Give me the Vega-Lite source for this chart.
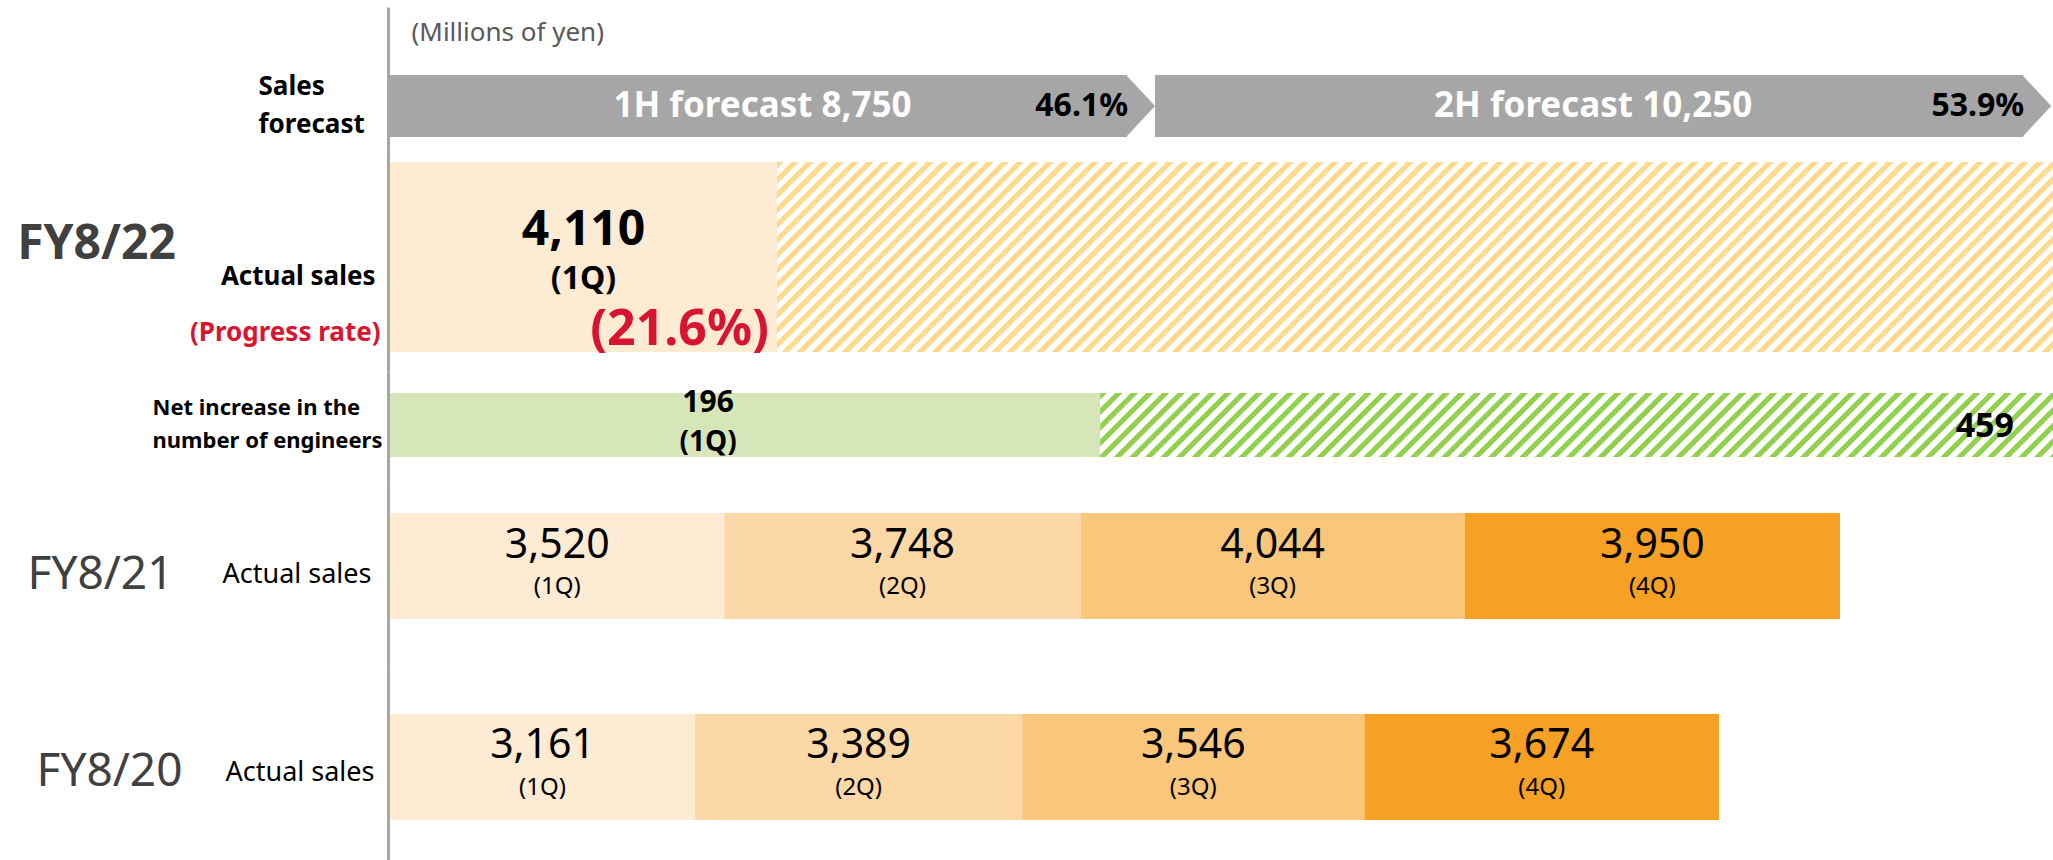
{
"$schema":"https://vega.github.io/schema/vega-lite/v6.json",
"background":"white",
"padding":{"left":0,"top":7,"right":0,"bottom":0},
"config":{"font":"Noto Sans","view":{"stroke":null},
"axis":{"ticks":false,"tickSize":0,"grid":false,"domain":false,"labelLimit":0,"labelBaseline":"middle","labelFont":"Noto Sans","labelOverlap":false,"labelAngle":0}},
"spacing":0,
"bounds":"flush",
"resolve":{"scale":{"x":"independent","y":"independent"}},
"datasets":{
"forecast":[
{"row":"forecast","half":"1H","start":0,"end":8750,"amount":8750,"label":"1H forecast 8,750","share":"46.1%"},
{"row":"forecast","half":"2H","start":8750,"end":19000,"amount":10250,"label":"2H forecast 10,250","share":"53.9%"}],
"fy22":[
{"row":"FY8/22","part":"actual","from":0,"to":4110,"amount":4110,"qlabel":"(1Q)","progress":"(21.6%)"},
{"row":"FY8/22","part":"remaining","from":4110,"to":19000}],
"engineers":[
{"row":"engineers","part":"actual","from":0,"to":196,"amount":196,"qlabel":"(1Q)"},
{"row":"engineers","part":"target","from":196,"to":459,"target":459}],
"fy21":[
{"row":"FY8/21","q":"1Q","qlabel":"(1Q)","sales":3520},
{"row":"FY8/21","q":"2Q","qlabel":"(2Q)","sales":3748},
{"row":"FY8/21","q":"3Q","qlabel":"(3Q)","sales":4044},
{"row":"FY8/21","q":"4Q","qlabel":"(4Q)","sales":3950}],
"fy20":[
{"row":"FY8/20","q":"1Q","qlabel":"(1Q)","sales":3161},
{"row":"FY8/20","q":"2Q","qlabel":"(2Q)","sales":3389},
{"row":"FY8/20","q":"3Q","qlabel":"(3Q)","sales":3546},
{"row":"FY8/20","q":"4Q","qlabel":"(4Q)","sales":3674}]
},
"vconcat":[
{
"width":1663,"height":142,
"data":{"name":"forecast"},
"resolve":{"axis":{"x":"independent","y":"independent"}},
"layer":[
{"mark":{"type":"bar","color":"#a6a6a6","x2Offset":-28},
"encoding":{
"x":{"field":"start","type":"quantitative","scale":{"domain":[0,19020],"nice":false},"axis":{"orient":"top","labels":false,"ticks":false,"domain":false,"grid":false,"title":"(Millions of yen)","titleFont":"Noto Sans","titleFontSize":26,"titleFontWeight":"normal","titleColor":"#595959","titleAlign":"left","titleBaseline":"middle","titleAngle":0,"titleX":21,"titleY":25}},
"x2":{"field":"end"},
"y":{"field":"row","type":"nominal","scale":{"type":"band","paddingInner":0,"paddingOuter":0.64516,"align":0.85},"axis":{"orient":"left","offset":2,"domain":true,"domainColor":"#a6a6a6","domainWidth":3,"labelExpr":"['Sales', 'forecast']","labelAlign":"left","labelPadding":130,"labelOffset":-19,"labelFontSize":26,"labelFontWeight":"bold","labelColor":"#000000","labelLineHeight":38,"title":" ","titleAngle":0,"titleX":-388,"titleY":10,"titleAlign":"left","titleFontSize":1}}}},
{"mark":{"type":"point","shape":"M-0.935,-1L0,0L-0.935,1Z","size":3844,"filled":true,"color":"#a6a6a6","opacity":1,"strokeWidth":0},
"encoding":{
"x":{"field":"end","type":"quantitative","scale":{"domain":[0,19020],"nice":false},"axis":null},
"y":{"field":"row","type":"nominal","scale":{"type":"band","paddingInner":0,"paddingOuter":0.64516,"align":0.85},"axis":null}}},
{"mark":{"type":"text","color":"#ffffff","fontWeight":"bold","fontSize":35,"dx":-10,"baseline":"middle","align":"center"},
"encoding":{
"x":{"field":"amount","type":"quantitative","stack":"zero","bandPosition":0.5,"scale":{"domain":[0,19020],"nice":false},"axis":null},
"detail":{"field":"half"},
"order":{"field":"half","type":"ordinal","sort":"ascending"},
"y":{"field":"row","type":"nominal","scale":{"type":"band","paddingInner":0,"paddingOuter":0.64516,"align":0.85},"axis":null},
"text":{"field":"label"}}},
{"mark":{"type":"text","color":"#000000","fontWeight":"bold","fontSize":32,"dx":-27,"baseline":"middle","align":"right"},
"encoding":{
"x":{"field":"end","type":"quantitative","scale":{"domain":[0,19020],"nice":false},"axis":null},
"y":{"field":"row","type":"nominal","scale":{"type":"band","paddingInner":0,"paddingOuter":0.64516,"align":0.85},"axis":null},
"text":{"field":"share"}}}
]},
{
"width":1663,"height":223,
"data":{"name":"fy22"},
"resolve":{"axis":{"y":"independent"}},
"layer":[
{"transform":[{"filter":"datum.part === 'actual'"}],
"mark":{"type":"bar","color":"#fdebd3"},
"encoding":{
"x":{"field":"from","type":"quantitative","scale":{"domain":[0,17660],"nice":false},"axis":null},
"x2":{"field":"to"},
"y":{"field":"row","type":"nominal","scale":{"type":"band","paddingInner":0,"paddingOuter":0.086842,"align":0.393939},"axis":{"orient":"left","offset":2,"domain":true,"domainColor":"#a6a6a6","domainWidth":3,"labelExpr":"'FY8/22'","labelAlign":"center","labelPadding":292,"labelOffset":-12,"labelFontSize":48,"labelFontWeight":"bold","labelColor":"#404040","title":null}}}},
{"transform":[{"filter":"datum.part === 'remaining'"}],
"mark":{"type":"bar","clip":true,"fill":{"gradient":"linear","x1":0,"y1":0,"x2":1.050494,"y2":0.142348,"stops":[
{"offset":0.00,"color":"#ffd98c"},{"offset":0.004,"color":"#ffd98c"},{"offset":0.005,"color":"#fff"},{"offset":0.0095,"color":"#fff"},
{"offset":0.01,"color":"#ffd98c"},{"offset":0.014,"color":"#ffd98c"},{"offset":0.015,"color":"#fff"},{"offset":0.0195,"color":"#fff"},
{"offset":0.02,"color":"#ffd98c"},{"offset":0.024,"color":"#ffd98c"},{"offset":0.025,"color":"#fff"},{"offset":0.0295,"color":"#fff"},
{"offset":0.03,"color":"#ffd98c"},{"offset":0.034,"color":"#ffd98c"},{"offset":0.035,"color":"#fff"},{"offset":0.0395,"color":"#fff"},
{"offset":0.04,"color":"#ffd98c"},{"offset":0.044,"color":"#ffd98c"},{"offset":0.045,"color":"#fff"},{"offset":0.0495,"color":"#fff"},
{"offset":0.05,"color":"#ffd98c"},{"offset":0.054,"color":"#ffd98c"},{"offset":0.055,"color":"#fff"},{"offset":0.0595,"color":"#fff"},
{"offset":0.06,"color":"#ffd98c"},{"offset":0.064,"color":"#ffd98c"},{"offset":0.065,"color":"#fff"},{"offset":0.0695,"color":"#fff"},
{"offset":0.07,"color":"#ffd98c"},{"offset":0.074,"color":"#ffd98c"},{"offset":0.075,"color":"#fff"},{"offset":0.0795,"color":"#fff"},
{"offset":0.08,"color":"#ffd98c"},{"offset":0.084,"color":"#ffd98c"},{"offset":0.085,"color":"#fff"},{"offset":0.0895,"color":"#fff"},
{"offset":0.09,"color":"#ffd98c"},{"offset":0.094,"color":"#ffd98c"},{"offset":0.095,"color":"#fff"},{"offset":0.0995,"color":"#fff"},
{"offset":0.10,"color":"#ffd98c"},{"offset":0.104,"color":"#ffd98c"},{"offset":0.105,"color":"#fff"},{"offset":0.1095,"color":"#fff"},
{"offset":0.11,"color":"#ffd98c"},{"offset":0.114,"color":"#ffd98c"},{"offset":0.115,"color":"#fff"},{"offset":0.1195,"color":"#fff"},
{"offset":0.12,"color":"#ffd98c"},{"offset":0.124,"color":"#ffd98c"},{"offset":0.125,"color":"#fff"},{"offset":0.1295,"color":"#fff"},
{"offset":0.13,"color":"#ffd98c"},{"offset":0.134,"color":"#ffd98c"},{"offset":0.135,"color":"#fff"},{"offset":0.1395,"color":"#fff"},
{"offset":0.14,"color":"#ffd98c"},{"offset":0.144,"color":"#ffd98c"},{"offset":0.145,"color":"#fff"},{"offset":0.1495,"color":"#fff"},
{"offset":0.15,"color":"#ffd98c"},{"offset":0.154,"color":"#ffd98c"},{"offset":0.155,"color":"#fff"},{"offset":0.1595,"color":"#fff"},
{"offset":0.16,"color":"#ffd98c"},{"offset":0.164,"color":"#ffd98c"},{"offset":0.165,"color":"#fff"},{"offset":0.1695,"color":"#fff"},
{"offset":0.17,"color":"#ffd98c"},{"offset":0.174,"color":"#ffd98c"},{"offset":0.175,"color":"#fff"},{"offset":0.1795,"color":"#fff"},
{"offset":0.18,"color":"#ffd98c"},{"offset":0.184,"color":"#ffd98c"},{"offset":0.185,"color":"#fff"},{"offset":0.1895,"color":"#fff"},
{"offset":0.19,"color":"#ffd98c"},{"offset":0.194,"color":"#ffd98c"},{"offset":0.195,"color":"#fff"},{"offset":0.1995,"color":"#fff"},
{"offset":0.20,"color":"#ffd98c"},{"offset":0.204,"color":"#ffd98c"},{"offset":0.205,"color":"#fff"},{"offset":0.2095,"color":"#fff"},
{"offset":0.21,"color":"#ffd98c"},{"offset":0.214,"color":"#ffd98c"},{"offset":0.215,"color":"#fff"},{"offset":0.2195,"color":"#fff"},
{"offset":0.22,"color":"#ffd98c"},{"offset":0.224,"color":"#ffd98c"},{"offset":0.225,"color":"#fff"},{"offset":0.2295,"color":"#fff"},
{"offset":0.23,"color":"#ffd98c"},{"offset":0.234,"color":"#ffd98c"},{"offset":0.235,"color":"#fff"},{"offset":0.2395,"color":"#fff"},
{"offset":0.24,"color":"#ffd98c"},{"offset":0.244,"color":"#ffd98c"},{"offset":0.245,"color":"#fff"},{"offset":0.2495,"color":"#fff"},
{"offset":0.25,"color":"#ffd98c"},{"offset":0.254,"color":"#ffd98c"},{"offset":0.255,"color":"#fff"},{"offset":0.2595,"color":"#fff"},
{"offset":0.26,"color":"#ffd98c"},{"offset":0.264,"color":"#ffd98c"},{"offset":0.265,"color":"#fff"},{"offset":0.2695,"color":"#fff"},
{"offset":0.27,"color":"#ffd98c"},{"offset":0.274,"color":"#ffd98c"},{"offset":0.275,"color":"#fff"},{"offset":0.2795,"color":"#fff"},
{"offset":0.28,"color":"#ffd98c"},{"offset":0.284,"color":"#ffd98c"},{"offset":0.285,"color":"#fff"},{"offset":0.2895,"color":"#fff"},
{"offset":0.29,"color":"#ffd98c"},{"offset":0.294,"color":"#ffd98c"},{"offset":0.295,"color":"#fff"},{"offset":0.2995,"color":"#fff"},
{"offset":0.30,"color":"#ffd98c"},{"offset":0.304,"color":"#ffd98c"},{"offset":0.305,"color":"#fff"},{"offset":0.3095,"color":"#fff"},
{"offset":0.31,"color":"#ffd98c"},{"offset":0.314,"color":"#ffd98c"},{"offset":0.315,"color":"#fff"},{"offset":0.3195,"color":"#fff"},
{"offset":0.32,"color":"#ffd98c"},{"offset":0.324,"color":"#ffd98c"},{"offset":0.325,"color":"#fff"},{"offset":0.3295,"color":"#fff"},
{"offset":0.33,"color":"#ffd98c"},{"offset":0.334,"color":"#ffd98c"},{"offset":0.335,"color":"#fff"},{"offset":0.3395,"color":"#fff"},
{"offset":0.34,"color":"#ffd98c"},{"offset":0.344,"color":"#ffd98c"},{"offset":0.345,"color":"#fff"},{"offset":0.3495,"color":"#fff"},
{"offset":0.35,"color":"#ffd98c"},{"offset":0.354,"color":"#ffd98c"},{"offset":0.355,"color":"#fff"},{"offset":0.3595,"color":"#fff"},
{"offset":0.36,"color":"#ffd98c"},{"offset":0.364,"color":"#ffd98c"},{"offset":0.365,"color":"#fff"},{"offset":0.3695,"color":"#fff"},
{"offset":0.37,"color":"#ffd98c"},{"offset":0.374,"color":"#ffd98c"},{"offset":0.375,"color":"#fff"},{"offset":0.3795,"color":"#fff"},
{"offset":0.38,"color":"#ffd98c"},{"offset":0.384,"color":"#ffd98c"},{"offset":0.385,"color":"#fff"},{"offset":0.3895,"color":"#fff"},
{"offset":0.39,"color":"#ffd98c"},{"offset":0.394,"color":"#ffd98c"},{"offset":0.395,"color":"#fff"},{"offset":0.3995,"color":"#fff"},
{"offset":0.40,"color":"#ffd98c"},{"offset":0.404,"color":"#ffd98c"},{"offset":0.405,"color":"#fff"},{"offset":0.4095,"color":"#fff"},
{"offset":0.41,"color":"#ffd98c"},{"offset":0.414,"color":"#ffd98c"},{"offset":0.415,"color":"#fff"},{"offset":0.4195,"color":"#fff"},
{"offset":0.42,"color":"#ffd98c"},{"offset":0.424,"color":"#ffd98c"},{"offset":0.425,"color":"#fff"},{"offset":0.4295,"color":"#fff"},
{"offset":0.43,"color":"#ffd98c"},{"offset":0.434,"color":"#ffd98c"},{"offset":0.435,"color":"#fff"},{"offset":0.4395,"color":"#fff"},
{"offset":0.44,"color":"#ffd98c"},{"offset":0.444,"color":"#ffd98c"},{"offset":0.445,"color":"#fff"},{"offset":0.4495,"color":"#fff"},
{"offset":0.45,"color":"#ffd98c"},{"offset":0.454,"color":"#ffd98c"},{"offset":0.455,"color":"#fff"},{"offset":0.4595,"color":"#fff"},
{"offset":0.46,"color":"#ffd98c"},{"offset":0.464,"color":"#ffd98c"},{"offset":0.465,"color":"#fff"},{"offset":0.4695,"color":"#fff"},
{"offset":0.47,"color":"#ffd98c"},{"offset":0.474,"color":"#ffd98c"},{"offset":0.475,"color":"#fff"},{"offset":0.4795,"color":"#fff"},
{"offset":0.48,"color":"#ffd98c"},{"offset":0.484,"color":"#ffd98c"},{"offset":0.485,"color":"#fff"},{"offset":0.4895,"color":"#fff"},
{"offset":0.49,"color":"#ffd98c"},{"offset":0.494,"color":"#ffd98c"},{"offset":0.495,"color":"#fff"},{"offset":0.4995,"color":"#fff"},
{"offset":0.50,"color":"#ffd98c"},{"offset":0.504,"color":"#ffd98c"},{"offset":0.505,"color":"#fff"},{"offset":0.5095,"color":"#fff"},
{"offset":0.51,"color":"#ffd98c"},{"offset":0.514,"color":"#ffd98c"},{"offset":0.515,"color":"#fff"},{"offset":0.5195,"color":"#fff"},
{"offset":0.52,"color":"#ffd98c"},{"offset":0.524,"color":"#ffd98c"},{"offset":0.525,"color":"#fff"},{"offset":0.5295,"color":"#fff"},
{"offset":0.53,"color":"#ffd98c"},{"offset":0.534,"color":"#ffd98c"},{"offset":0.535,"color":"#fff"},{"offset":0.5395,"color":"#fff"},
{"offset":0.54,"color":"#ffd98c"},{"offset":0.544,"color":"#ffd98c"},{"offset":0.545,"color":"#fff"},{"offset":0.5495,"color":"#fff"},
{"offset":0.55,"color":"#ffd98c"},{"offset":0.554,"color":"#ffd98c"},{"offset":0.555,"color":"#fff"},{"offset":0.5595,"color":"#fff"},
{"offset":0.56,"color":"#ffd98c"},{"offset":0.564,"color":"#ffd98c"},{"offset":0.565,"color":"#fff"},{"offset":0.5695,"color":"#fff"},
{"offset":0.57,"color":"#ffd98c"},{"offset":0.574,"color":"#ffd98c"},{"offset":0.575,"color":"#fff"},{"offset":0.5795,"color":"#fff"},
{"offset":0.58,"color":"#ffd98c"},{"offset":0.584,"color":"#ffd98c"},{"offset":0.585,"color":"#fff"},{"offset":0.5895,"color":"#fff"},
{"offset":0.59,"color":"#ffd98c"},{"offset":0.594,"color":"#ffd98c"},{"offset":0.595,"color":"#fff"},{"offset":0.5995,"color":"#fff"},
{"offset":0.60,"color":"#ffd98c"},{"offset":0.604,"color":"#ffd98c"},{"offset":0.605,"color":"#fff"},{"offset":0.6095,"color":"#fff"},
{"offset":0.61,"color":"#ffd98c"},{"offset":0.614,"color":"#ffd98c"},{"offset":0.615,"color":"#fff"},{"offset":0.6195,"color":"#fff"},
{"offset":0.62,"color":"#ffd98c"},{"offset":0.624,"color":"#ffd98c"},{"offset":0.625,"color":"#fff"},{"offset":0.6295,"color":"#fff"},
{"offset":0.63,"color":"#ffd98c"},{"offset":0.634,"color":"#ffd98c"},{"offset":0.635,"color":"#fff"},{"offset":0.6395,"color":"#fff"},
{"offset":0.64,"color":"#ffd98c"},{"offset":0.644,"color":"#ffd98c"},{"offset":0.645,"color":"#fff"},{"offset":0.6495,"color":"#fff"},
{"offset":0.65,"color":"#ffd98c"},{"offset":0.654,"color":"#ffd98c"},{"offset":0.655,"color":"#fff"},{"offset":0.6595,"color":"#fff"},
{"offset":0.66,"color":"#ffd98c"},{"offset":0.664,"color":"#ffd98c"},{"offset":0.665,"color":"#fff"},{"offset":0.6695,"color":"#fff"},
{"offset":0.67,"color":"#ffd98c"},{"offset":0.674,"color":"#ffd98c"},{"offset":0.675,"color":"#fff"},{"offset":0.6795,"color":"#fff"},
{"offset":0.68,"color":"#ffd98c"},{"offset":0.684,"color":"#ffd98c"},{"offset":0.685,"color":"#fff"},{"offset":0.6895,"color":"#fff"},
{"offset":0.69,"color":"#ffd98c"},{"offset":0.694,"color":"#ffd98c"},{"offset":0.695,"color":"#fff"},{"offset":0.6995,"color":"#fff"},
{"offset":0.70,"color":"#ffd98c"},{"offset":0.704,"color":"#ffd98c"},{"offset":0.705,"color":"#fff"},{"offset":0.7095,"color":"#fff"},
{"offset":0.71,"color":"#ffd98c"},{"offset":0.714,"color":"#ffd98c"},{"offset":0.715,"color":"#fff"},{"offset":0.7195,"color":"#fff"},
{"offset":0.72,"color":"#ffd98c"},{"offset":0.724,"color":"#ffd98c"},{"offset":0.725,"color":"#fff"},{"offset":0.7295,"color":"#fff"},
{"offset":0.73,"color":"#ffd98c"},{"offset":0.734,"color":"#ffd98c"},{"offset":0.735,"color":"#fff"},{"offset":0.7395,"color":"#fff"},
{"offset":0.74,"color":"#ffd98c"},{"offset":0.744,"color":"#ffd98c"},{"offset":0.745,"color":"#fff"},{"offset":0.7495,"color":"#fff"},
{"offset":0.75,"color":"#ffd98c"},{"offset":0.754,"color":"#ffd98c"},{"offset":0.755,"color":"#fff"},{"offset":0.7595,"color":"#fff"},
{"offset":0.76,"color":"#ffd98c"},{"offset":0.764,"color":"#ffd98c"},{"offset":0.765,"color":"#fff"},{"offset":0.7695,"color":"#fff"},
{"offset":0.77,"color":"#ffd98c"},{"offset":0.774,"color":"#ffd98c"},{"offset":0.775,"color":"#fff"},{"offset":0.7795,"color":"#fff"},
{"offset":0.78,"color":"#ffd98c"},{"offset":0.784,"color":"#ffd98c"},{"offset":0.785,"color":"#fff"},{"offset":0.7895,"color":"#fff"},
{"offset":0.79,"color":"#ffd98c"},{"offset":0.794,"color":"#ffd98c"},{"offset":0.795,"color":"#fff"},{"offset":0.7995,"color":"#fff"},
{"offset":0.80,"color":"#ffd98c"},{"offset":0.804,"color":"#ffd98c"},{"offset":0.805,"color":"#fff"},{"offset":0.8095,"color":"#fff"},
{"offset":0.81,"color":"#ffd98c"},{"offset":0.814,"color":"#ffd98c"},{"offset":0.815,"color":"#fff"},{"offset":0.8195,"color":"#fff"},
{"offset":0.82,"color":"#ffd98c"},{"offset":0.824,"color":"#ffd98c"},{"offset":0.825,"color":"#fff"},{"offset":0.8295,"color":"#fff"},
{"offset":0.83,"color":"#ffd98c"},{"offset":0.834,"color":"#ffd98c"},{"offset":0.835,"color":"#fff"},{"offset":0.8395,"color":"#fff"},
{"offset":0.84,"color":"#ffd98c"},{"offset":0.844,"color":"#ffd98c"},{"offset":0.845,"color":"#fff"},{"offset":0.8495,"color":"#fff"},
{"offset":0.85,"color":"#ffd98c"},{"offset":0.854,"color":"#ffd98c"},{"offset":0.855,"color":"#fff"},{"offset":0.8595,"color":"#fff"},
{"offset":0.86,"color":"#ffd98c"},{"offset":0.864,"color":"#ffd98c"},{"offset":0.865,"color":"#fff"},{"offset":0.8695,"color":"#fff"},
{"offset":0.87,"color":"#ffd98c"},{"offset":0.874,"color":"#ffd98c"},{"offset":0.875,"color":"#fff"},{"offset":0.8795,"color":"#fff"},
{"offset":0.88,"color":"#ffd98c"},{"offset":0.884,"color":"#ffd98c"},{"offset":0.885,"color":"#fff"},{"offset":0.8895,"color":"#fff"},
{"offset":0.89,"color":"#ffd98c"},{"offset":0.894,"color":"#ffd98c"},{"offset":0.895,"color":"#fff"},{"offset":0.8995,"color":"#fff"},
{"offset":0.90,"color":"#ffd98c"},{"offset":0.904,"color":"#ffd98c"},{"offset":0.905,"color":"#fff"},{"offset":0.9095,"color":"#fff"},
{"offset":0.91,"color":"#ffd98c"},{"offset":0.914,"color":"#ffd98c"},{"offset":0.915,"color":"#fff"},{"offset":0.9195,"color":"#fff"},
{"offset":0.92,"color":"#ffd98c"},{"offset":0.924,"color":"#ffd98c"},{"offset":0.925,"color":"#fff"},{"offset":0.9295,"color":"#fff"},
{"offset":0.93,"color":"#ffd98c"},{"offset":0.934,"color":"#ffd98c"},{"offset":0.935,"color":"#fff"},{"offset":0.9395,"color":"#fff"},
{"offset":0.94,"color":"#ffd98c"},{"offset":0.944,"color":"#ffd98c"},{"offset":0.945,"color":"#fff"},{"offset":0.9495,"color":"#fff"},
{"offset":0.95,"color":"#ffd98c"},{"offset":0.954,"color":"#ffd98c"},{"offset":0.955,"color":"#fff"},{"offset":0.9595,"color":"#fff"},
{"offset":0.96,"color":"#ffd98c"},{"offset":0.964,"color":"#ffd98c"},{"offset":0.965,"color":"#fff"},{"offset":0.9695,"color":"#fff"},
{"offset":0.97,"color":"#ffd98c"},{"offset":0.974,"color":"#ffd98c"},{"offset":0.975,"color":"#fff"},{"offset":0.9795,"color":"#fff"}
]}},
"encoding":{
"x":{"field":"from","type":"quantitative","scale":{"domain":[0,17660],"nice":false},"axis":null},
"x2":{"field":"to"},
"y":{"field":"row","type":"nominal","scale":{"type":"band","paddingInner":0,"paddingOuter":0.086842,"align":0.393939},"axis":{"orient":"left","offset":2,"labelExpr":"'Actual sales'","labelAlign":"right","labelPadding":13,"labelOffset":20,"labelFontSize":26,"labelFontWeight":"bold","labelColor":"#000000","title":null}}}},
{"transform":[{"filter":"datum.part === 'actual'"}],
"mark":{"type":"text","fontSize":48,"fontWeight":"bold","color":"#000000","dy":-26,"baseline":"middle","align":"center"},
"encoding":{
"x":{"field":"amount","type":"quantitative","stack":"zero","bandPosition":0.5,"scale":{"domain":[0,17660],"nice":false},"axis":null},
"detail":{"field":"part"},
"y":{"field":"row","type":"nominal","scale":{"type":"band","paddingInner":0,"paddingOuter":0.086842,"align":0.393939},"axis":{"orient":"left","offset":2,"labelExpr":"'(Progress rate)'","labelAlign":"right","labelPadding":8,"labelOffset":76,"labelFontSize":26,"labelFontWeight":"bold","labelColor":"#d81530","title":null}},
"text":{"field":"amount","type":"quantitative","format":","}}},
{"transform":[{"filter":"datum.part === 'actual'"}],
"mark":{"type":"text","fontSize":32,"fontWeight":"bold","color":"#000000","dy":22,"baseline":"middle","align":"center"},
"encoding":{
"x":{"field":"amount","type":"quantitative","stack":"zero","bandPosition":0.5,"scale":{"domain":[0,17660],"nice":false},"axis":null},
"detail":{"field":"part"},
"y":{"field":"row","type":"nominal","scale":{"type":"band","paddingInner":0,"paddingOuter":0.086842,"align":0.393939},"axis":null},
"text":{"field":"qlabel"}}},
{"transform":[{"filter":"datum.part === 'actual'"}],
"mark":{"type":"text","fontSize":50,"fontWeight":"bold","color":"#d81530","dx":-8,"dy":73,"baseline":"middle","align":"right"},
"encoding":{
"x":{"field":"to","type":"quantitative","scale":{"domain":[0,17660],"nice":false},"axis":null},
"y":{"field":"row","type":"nominal","scale":{"type":"band","paddingInner":0,"paddingOuter":0.086842,"align":0.393939},"axis":null},
"text":{"field":"progress"}}}
]},
{
"width":1663,"height":113,
"data":{"name":"engineers"},
"resolve":{"axis":{"y":"independent"}},
"layer":[
{"transform":[{"filter":"datum.part === 'actual'"}],
"mark":{"type":"bar","color":"#d7e6b9"},
"encoding":{
"x":{"field":"from","type":"quantitative","scale":{"domain":[0,459],"nice":false},"axis":null},
"x2":{"field":"to"},
"y":{"field":"row","type":"nominal","scale":{"type":"band","paddingInner":0,"paddingOuter":0.382813,"align":0.428571},"axis":{"orient":"left","offset":2,"domain":true,"domainColor":"#a6a6a6","domainWidth":3,"labelExpr":"['Net increase in the', 'number of engineers']","labelAlign":"left","labelPadding":236,"labelOffset":-17,"labelFontSize":22,"labelFontWeight":"bold","labelColor":"#000000","labelLineHeight":33,"title":null}}}},
{"transform":[{"filter":"datum.part === 'target'"}],
"mark":{"type":"bar","fill":{"gradient":"linear","x1":0,"y1":0,"x2":1.0865,"y2":0.072973,"stops":[
{"offset":0,"color":"#92d050"},{"offset":0.006,"color":"#92d050"},{"offset":0.007,"color":"#fff"},{"offset":0.014,"color":"#fff"},
{"offset":0.015,"color":"#92d050"},{"offset":0.021,"color":"#92d050"},{"offset":0.022,"color":"#fff"},{"offset":0.029,"color":"#fff"},
{"offset":0.03,"color":"#92d050"},{"offset":0.036,"color":"#92d050"},{"offset":0.037,"color":"#fff"},{"offset":0.044,"color":"#fff"},
{"offset":0.045,"color":"#92d050"},{"offset":0.051,"color":"#92d050"},{"offset":0.052,"color":"#fff"},{"offset":0.059,"color":"#fff"},
{"offset":0.06,"color":"#92d050"},{"offset":0.066,"color":"#92d050"},{"offset":0.067,"color":"#fff"},{"offset":0.074,"color":"#fff"},
{"offset":0.075,"color":"#92d050"},{"offset":0.081,"color":"#92d050"},{"offset":0.082,"color":"#fff"},{"offset":0.089,"color":"#fff"},
{"offset":0.09,"color":"#92d050"},{"offset":0.096,"color":"#92d050"},{"offset":0.097,"color":"#fff"},{"offset":0.104,"color":"#fff"},
{"offset":0.105,"color":"#92d050"},{"offset":0.111,"color":"#92d050"},{"offset":0.112,"color":"#fff"},{"offset":0.119,"color":"#fff"},
{"offset":0.12,"color":"#92d050"},{"offset":0.126,"color":"#92d050"},{"offset":0.127,"color":"#fff"},{"offset":0.134,"color":"#fff"},
{"offset":0.135,"color":"#92d050"},{"offset":0.141,"color":"#92d050"},{"offset":0.142,"color":"#fff"},{"offset":0.149,"color":"#fff"},
{"offset":0.15,"color":"#92d050"},{"offset":0.156,"color":"#92d050"},{"offset":0.157,"color":"#fff"},{"offset":0.164,"color":"#fff"},
{"offset":0.165,"color":"#92d050"},{"offset":0.171,"color":"#92d050"},{"offset":0.172,"color":"#fff"},{"offset":0.179,"color":"#fff"},
{"offset":0.18,"color":"#92d050"},{"offset":0.186,"color":"#92d050"},{"offset":0.187,"color":"#fff"},{"offset":0.194,"color":"#fff"},
{"offset":0.195,"color":"#92d050"},{"offset":0.201,"color":"#92d050"},{"offset":0.202,"color":"#fff"},{"offset":0.209,"color":"#fff"},
{"offset":0.21,"color":"#92d050"},{"offset":0.216,"color":"#92d050"},{"offset":0.217,"color":"#fff"},{"offset":0.224,"color":"#fff"},
{"offset":0.225,"color":"#92d050"},{"offset":0.231,"color":"#92d050"},{"offset":0.232,"color":"#fff"},{"offset":0.239,"color":"#fff"},
{"offset":0.24,"color":"#92d050"},{"offset":0.246,"color":"#92d050"},{"offset":0.247,"color":"#fff"},{"offset":0.254,"color":"#fff"},
{"offset":0.255,"color":"#92d050"},{"offset":0.261,"color":"#92d050"},{"offset":0.262,"color":"#fff"},{"offset":0.269,"color":"#fff"},
{"offset":0.27,"color":"#92d050"},{"offset":0.276,"color":"#92d050"},{"offset":0.277,"color":"#fff"},{"offset":0.284,"color":"#fff"},
{"offset":0.285,"color":"#92d050"},{"offset":0.291,"color":"#92d050"},{"offset":0.292,"color":"#fff"},{"offset":0.299,"color":"#fff"},
{"offset":0.3,"color":"#92d050"},{"offset":0.306,"color":"#92d050"},{"offset":0.307,"color":"#fff"},{"offset":0.314,"color":"#fff"},
{"offset":0.315,"color":"#92d050"},{"offset":0.321,"color":"#92d050"},{"offset":0.322,"color":"#fff"},{"offset":0.329,"color":"#fff"},
{"offset":0.33,"color":"#92d050"},{"offset":0.336,"color":"#92d050"},{"offset":0.337,"color":"#fff"},{"offset":0.344,"color":"#fff"},
{"offset":0.345,"color":"#92d050"},{"offset":0.351,"color":"#92d050"},{"offset":0.352,"color":"#fff"},{"offset":0.359,"color":"#fff"},
{"offset":0.36,"color":"#92d050"},{"offset":0.366,"color":"#92d050"},{"offset":0.367,"color":"#fff"},{"offset":0.374,"color":"#fff"},
{"offset":0.375,"color":"#92d050"},{"offset":0.381,"color":"#92d050"},{"offset":0.382,"color":"#fff"},{"offset":0.389,"color":"#fff"},
{"offset":0.39,"color":"#92d050"},{"offset":0.396,"color":"#92d050"},{"offset":0.397,"color":"#fff"},{"offset":0.404,"color":"#fff"},
{"offset":0.405,"color":"#92d050"},{"offset":0.411,"color":"#92d050"},{"offset":0.412,"color":"#fff"},{"offset":0.419,"color":"#fff"},
{"offset":0.42,"color":"#92d050"},{"offset":0.426,"color":"#92d050"},{"offset":0.427,"color":"#fff"},{"offset":0.434,"color":"#fff"},
{"offset":0.435,"color":"#92d050"},{"offset":0.441,"color":"#92d050"},{"offset":0.442,"color":"#fff"},{"offset":0.449,"color":"#fff"},
{"offset":0.45,"color":"#92d050"},{"offset":0.456,"color":"#92d050"},{"offset":0.457,"color":"#fff"},{"offset":0.464,"color":"#fff"},
{"offset":0.465,"color":"#92d050"},{"offset":0.471,"color":"#92d050"},{"offset":0.472,"color":"#fff"},{"offset":0.479,"color":"#fff"},
{"offset":0.48,"color":"#92d050"},{"offset":0.486,"color":"#92d050"},{"offset":0.487,"color":"#fff"},{"offset":0.494,"color":"#fff"},
{"offset":0.495,"color":"#92d050"},{"offset":0.501,"color":"#92d050"},{"offset":0.502,"color":"#fff"},{"offset":0.509,"color":"#fff"},
{"offset":0.51,"color":"#92d050"},{"offset":0.516,"color":"#92d050"},{"offset":0.517,"color":"#fff"},{"offset":0.524,"color":"#fff"},
{"offset":0.525,"color":"#92d050"},{"offset":0.531,"color":"#92d050"},{"offset":0.532,"color":"#fff"},{"offset":0.539,"color":"#fff"},
{"offset":0.54,"color":"#92d050"},{"offset":0.546,"color":"#92d050"},{"offset":0.547,"color":"#fff"},{"offset":0.554,"color":"#fff"},
{"offset":0.555,"color":"#92d050"},{"offset":0.561,"color":"#92d050"},{"offset":0.562,"color":"#fff"},{"offset":0.569,"color":"#fff"},
{"offset":0.57,"color":"#92d050"},{"offset":0.576,"color":"#92d050"},{"offset":0.577,"color":"#fff"},{"offset":0.584,"color":"#fff"},
{"offset":0.585,"color":"#92d050"},{"offset":0.591,"color":"#92d050"},{"offset":0.592,"color":"#fff"},{"offset":0.599,"color":"#fff"},
{"offset":0.6,"color":"#92d050"},{"offset":0.606,"color":"#92d050"},{"offset":0.607,"color":"#fff"},{"offset":0.614,"color":"#fff"},
{"offset":0.615,"color":"#92d050"},{"offset":0.621,"color":"#92d050"},{"offset":0.622,"color":"#fff"},{"offset":0.629,"color":"#fff"},
{"offset":0.63,"color":"#92d050"},{"offset":0.636,"color":"#92d050"},{"offset":0.637,"color":"#fff"},{"offset":0.644,"color":"#fff"},
{"offset":0.645,"color":"#92d050"},{"offset":0.651,"color":"#92d050"},{"offset":0.652,"color":"#fff"},{"offset":0.659,"color":"#fff"},
{"offset":0.66,"color":"#92d050"},{"offset":0.666,"color":"#92d050"},{"offset":0.667,"color":"#fff"},{"offset":0.674,"color":"#fff"},
{"offset":0.675,"color":"#92d050"},{"offset":0.681,"color":"#92d050"},{"offset":0.682,"color":"#fff"},{"offset":0.689,"color":"#fff"},
{"offset":0.69,"color":"#92d050"},{"offset":0.696,"color":"#92d050"},{"offset":0.697,"color":"#fff"},{"offset":0.704,"color":"#fff"},
{"offset":0.705,"color":"#92d050"},{"offset":0.711,"color":"#92d050"},{"offset":0.712,"color":"#fff"},{"offset":0.719,"color":"#fff"},
{"offset":0.72,"color":"#92d050"},{"offset":0.726,"color":"#92d050"},{"offset":0.727,"color":"#fff"},{"offset":0.734,"color":"#fff"},
{"offset":0.735,"color":"#92d050"},{"offset":0.741,"color":"#92d050"},{"offset":0.742,"color":"#fff"},{"offset":0.749,"color":"#fff"},
{"offset":0.75,"color":"#92d050"},{"offset":0.756,"color":"#92d050"},{"offset":0.757,"color":"#fff"},{"offset":0.764,"color":"#fff"},
{"offset":0.765,"color":"#92d050"},{"offset":0.771,"color":"#92d050"},{"offset":0.772,"color":"#fff"},{"offset":0.779,"color":"#fff"},
{"offset":0.78,"color":"#92d050"},{"offset":0.786,"color":"#92d050"},{"offset":0.787,"color":"#fff"},{"offset":0.794,"color":"#fff"},
{"offset":0.795,"color":"#92d050"},{"offset":0.801,"color":"#92d050"},{"offset":0.802,"color":"#fff"},{"offset":0.809,"color":"#fff"},
{"offset":0.81,"color":"#92d050"},{"offset":0.816,"color":"#92d050"},{"offset":0.817,"color":"#fff"},{"offset":0.824,"color":"#fff"},
{"offset":0.825,"color":"#92d050"},{"offset":0.831,"color":"#92d050"},{"offset":0.832,"color":"#fff"},{"offset":0.839,"color":"#fff"},
{"offset":0.84,"color":"#92d050"},{"offset":0.846,"color":"#92d050"},{"offset":0.847,"color":"#fff"},{"offset":0.854,"color":"#fff"},
{"offset":0.855,"color":"#92d050"},{"offset":0.861,"color":"#92d050"},{"offset":0.862,"color":"#fff"},{"offset":0.869,"color":"#fff"},
{"offset":0.87,"color":"#92d050"},{"offset":0.876,"color":"#92d050"},{"offset":0.877,"color":"#fff"},{"offset":0.884,"color":"#fff"},
{"offset":0.885,"color":"#92d050"},{"offset":0.891,"color":"#92d050"},{"offset":0.892,"color":"#fff"},{"offset":0.899,"color":"#fff"},
{"offset":0.9,"color":"#92d050"},{"offset":0.906,"color":"#92d050"},{"offset":0.907,"color":"#fff"},{"offset":0.914,"color":"#fff"},
{"offset":0.915,"color":"#92d050"},{"offset":0.921,"color":"#92d050"},{"offset":0.922,"color":"#fff"},{"offset":0.929,"color":"#fff"},
{"offset":0.93,"color":"#92d050"},{"offset":0.936,"color":"#92d050"},{"offset":0.937,"color":"#fff"},{"offset":0.944,"color":"#fff"},
{"offset":0.945,"color":"#92d050"},{"offset":0.951,"color":"#92d050"},{"offset":0.952,"color":"#fff"},{"offset":0.959,"color":"#fff"},
{"offset":0.96,"color":"#92d050"},{"offset":0.966,"color":"#92d050"},{"offset":0.967,"color":"#fff"},{"offset":0.974,"color":"#fff"},
{"offset":0.975,"color":"#92d050"},{"offset":0.981,"color":"#92d050"},{"offset":0.982,"color":"#fff"},{"offset":0.989,"color":"#fff"}
]}},
"encoding":{
"x":{"field":"from","type":"quantitative","scale":{"domain":[0,459],"nice":false},"axis":null},
"x2":{"field":"to"},
"y":{"field":"row","type":"nominal","scale":{"type":"band","paddingInner":0,"paddingOuter":0.382813,"align":0.428571},"axis":null}}},
{"transform":[{"filter":"datum.part === 'actual'"}],
"mark":{"type":"text","fontSize":30,"fontWeight":"bold","color":"#000000","dx":-37,"dy":-22,"baseline":"middle","align":"center"},
"encoding":{
"x":{"field":"amount","type":"quantitative","stack":"zero","bandPosition":0.5,"scale":{"domain":[0,459],"nice":false},"axis":null},
"detail":{"field":"part"},
"y":{"field":"row","type":"nominal","scale":{"type":"band","paddingInner":0,"paddingOuter":0.382813,"align":0.428571},"axis":null},
"text":{"field":"amount","type":"quantitative","format":","}}},
{"transform":[{"filter":"datum.part === 'actual'"}],
"mark":{"type":"text","fontSize":28,"fontWeight":"bold","color":"#000000","dx":-37,"dy":18,"baseline":"middle","align":"center"},
"encoding":{
"x":{"field":"amount","type":"quantitative","stack":"zero","bandPosition":0.5,"scale":{"domain":[0,459],"nice":false},"axis":null},
"detail":{"field":"part"},
"y":{"field":"row","type":"nominal","scale":{"type":"band","paddingInner":0,"paddingOuter":0.382813,"align":0.428571},"axis":null},
"text":{"field":"qlabel"}}},
{"transform":[{"filter":"datum.part === 'target'"}],
"mark":{"type":"text","fontSize":34,"fontWeight":"bold","color":"#000000","dx":-39,"dy":2,"baseline":"middle","align":"right"},
"encoding":{
"x":{"field":"to","type":"quantitative","scale":{"domain":[0,459],"nice":false},"axis":null},
"y":{"field":"row","type":"nominal","scale":{"type":"band","paddingInner":0,"paddingOuter":0.382813,"align":0.428571},"axis":null},
"text":{"field":"target","type":"quantitative","format":","}}}
]},
{
"width":1663,"height":181,
"data":{"name":"fy21"},
"resolve":{"axis":{"y":"independent"}},
"layer":[
{"mark":{"type":"bar"},
"encoding":{
"x":{"field":"sales","type":"quantitative","stack":"zero","scale":{"domain":[0,17504],"nice":false},"axis":null},
"color":{"field":"q","type":"nominal","scale":{"domain":["1Q","2Q","3Q","4Q"],"range":["#fdebd3","#fcd8a6","#f9c77c","#f6a123"]},"legend":null},
"order":{"field":"q","type":"ordinal","sort":"ascending"},
"y":{"field":"row","type":"nominal","scale":{"type":"band","paddingInner":0,"paddingOuter":0.353774,"align":0.373333},"axis":{"orient":"left","offset":2,"domain":true,"domainColor":"#a6a6a6","domainWidth":3,"labelExpr":"'FY8/21'","labelAlign":"center","labelPadding":288,"labelOffset":9,"labelFontSize":46,"labelFontWeight":"normal","labelColor":"#404040","title":null}}}},
{"mark":{"type":"text","fontSize":41,"color":"#000000","dy":-20,"baseline":"middle","align":"center"},
"encoding":{
"x":{"field":"sales","type":"quantitative","stack":"zero","bandPosition":0.5,"scale":{"domain":[0,17504],"nice":false},"axis":null},
"detail":{"field":"q"},
"order":{"field":"q","type":"ordinal","sort":"ascending"},
"y":{"field":"row","type":"nominal","scale":{"type":"band","paddingInner":0,"paddingOuter":0.353774,"align":0.373333},"axis":{"orient":"left","offset":2,"labelExpr":"'Actual sales'","labelAlign":"right","labelPadding":17,"labelOffset":9,"labelFontSize":27,"labelFontWeight":"normal","labelColor":"#000000","title":null}},
"text":{"field":"sales","type":"quantitative","format":","}}},
{"mark":{"type":"text","fontSize":24,"color":"#000000","dy":21,"baseline":"middle","align":"center"},
"encoding":{
"x":{"field":"sales","type":"quantitative","stack":"zero","bandPosition":0.5,"scale":{"domain":[0,17504],"nice":false},"axis":null},
"detail":{"field":"q"},
"order":{"field":"q","type":"ordinal","sort":"ascending"},
"y":{"field":"row","type":"nominal","scale":{"type":"band","paddingInner":0,"paddingOuter":0.353774,"align":0.373333},"axis":null},
"text":{"field":"qlabel"}}}
]},
{
"width":1663,"height":194,
"data":{"name":"fy20"},
"resolve":{"axis":{"y":"independent"}},
"layer":[
{"mark":{"type":"bar"},
"encoding":{
"x":{"field":"sales","type":"quantitative","stack":"zero","scale":{"domain":[0,17231],"nice":false},"axis":null},
"color":{"field":"q","type":"nominal","scale":{"domain":["1Q","2Q","3Q","4Q"],"range":["#fdebd3","#fcd8a6","#f9c77c","#f6a123"]},"legend":null},
"order":{"field":"q","type":"ordinal","sort":"ascending"},
"y":{"field":"row","type":"nominal","scale":{"type":"band","paddingInner":0,"paddingOuter":0.415094,"align":0.545455},"axis":{"orient":"left","offset":2,"domain":true,"domainColor":"#a6a6a6","domainWidth":3,"labelExpr":"'FY8/20'","labelAlign":"center","labelPadding":279,"labelOffset":5,"labelFontSize":46,"labelFontWeight":"normal","labelColor":"#404040","title":null}}}},
{"mark":{"type":"text","fontSize":41,"color":"#000000","dy":-21,"baseline":"middle","align":"center"},
"encoding":{
"x":{"field":"sales","type":"quantitative","stack":"zero","bandPosition":0.5,"scale":{"domain":[0,17231],"nice":false},"axis":null},
"detail":{"field":"q"},
"order":{"field":"q","type":"ordinal","sort":"ascending"},
"y":{"field":"row","type":"nominal","scale":{"type":"band","paddingInner":0,"paddingOuter":0.415094,"align":0.545455},"axis":{"orient":"left","offset":2,"labelExpr":"'Actual sales'","labelAlign":"right","labelPadding":14,"labelOffset":6,"labelFontSize":27,"labelFontWeight":"normal","labelColor":"#000000","title":null}},
"text":{"field":"sales","type":"quantitative","format":","}}},
{"mark":{"type":"text","fontSize":24,"color":"#000000","dy":21,"baseline":"middle","align":"center"},
"encoding":{
"x":{"field":"sales","type":"quantitative","stack":"zero","bandPosition":0.5,"scale":{"domain":[0,17231],"nice":false},"axis":null},
"detail":{"field":"q"},
"order":{"field":"q","type":"ordinal","sort":"ascending"},
"y":{"field":"row","type":"nominal","scale":{"type":"band","paddingInner":0,"paddingOuter":0.415094,"align":0.545455},"axis":null},
"text":{"field":"qlabel"}}}
]}
]
}
